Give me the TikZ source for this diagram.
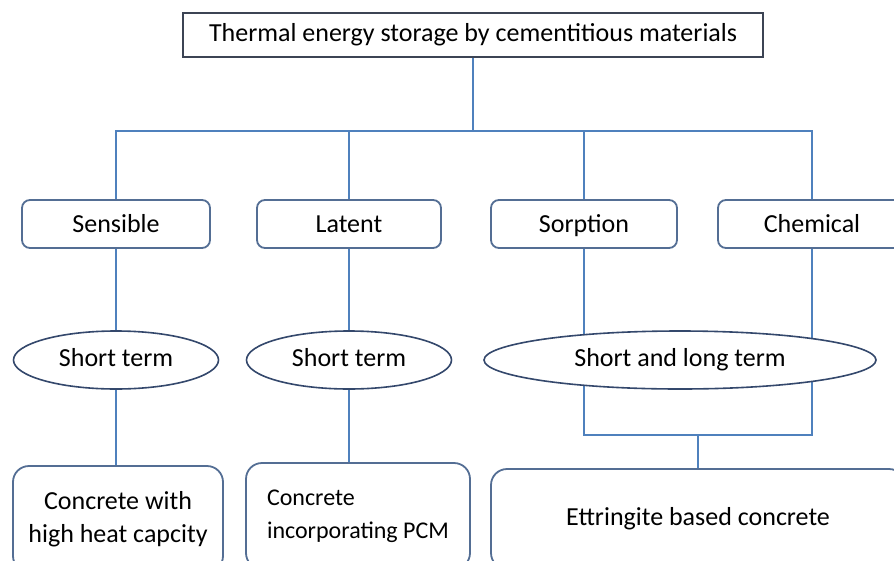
\documentclass[tikz,border=0pt]{standalone}
\usepackage{fontspec}
\setmainfont{Carlito}
\usepackage{xcolor}
\usetikzlibrary{shapes.geometric}
\usetikzlibrary{backgrounds}
\definecolor{linkblue}{RGB}{79,129,189}
\definecolor{topgray}{RGB}{60,68,84}
\definecolor{boxblue}{RGB}{84,110,148}
\definecolor{ovalblue}{RGB}{52,72,108}

\begin{document}
\begin{tikzpicture}[x=1pt, y=-1pt,
  link/.style={draw=linkblue, line width=1.6pt},
  topbox/.style={draw=topgray, line width=1.8pt, fill=white, minimum height=44pt, inner sep=0pt, font=\fontsize{26}{30}\selectfont},
  kind/.style={draw=boxblue, line width=1.8pt, rounded corners=8pt, fill=white, minimum height=48pt, inner sep=0pt, text height=20pt, text depth=3pt, font=\fontsize{26}{30}\selectfont},
  term/.style={ellipse, draw=ovalblue, line width=1.6pt, fill=white, minimum height=58pt, inner sep=0pt, text height=18pt, text depth=5pt, font=\fontsize{26}{30}\selectfont},
  result/.style={draw=boxblue, line width=1.8pt, rounded corners=16pt, fill=white, minimum height=106pt, inner sep=0pt, font=\fontsize{26}{33}\selectfont}]
\useasboundingbox (0,0) rectangle (894,560);
\clip (0,0) rectangle (894,560);

% root and the four kinds
\node[topbox, minimum width=580pt] (top) at (473,35) {Thermal energy storage by cementitious materials};
\node[kind, minimum width=188pt] (sens) at (116,224) {Sensible};
\node[kind, minimum width=184pt] (lat) at (349,224) {Latent};
\node[kind, minimum width=186pt] (sorp) at (584,224) {Sorption};
\node[kind, minimum width=188pt] (chem) at (812,224) {Chemical};

% storage term
\node[term, minimum width=205pt] (sst) at (116,360) {Short term};
\node[term, minimum width=205pt] (lst) at (349,360) {Short term};
\node[term, minimum width=392pt] (stl) at (680,360) {Short and long term};

% materials
\node[result, minimum width=210pt, align=center] (conc1) at (118,519) {Concrete with\\high heat capcity};
\node[result, minimum width=224pt, align=left, font=\fontsize{24}{33}\selectfont] (conc2) at (358,516) {Concrete\\incorporating PCM};
\node[result, minimum width=414pt, minimum height=100pt] (ett) at (698,519) {Ettringite based concrete};

\begin{scope}[on background layer]
\draw[link] (top.south) -- ++(0,73) coordinate (bus);
\draw[link] (sens.north) |- (bus) -| (chem.north);
\draw[link] (lat.north) -- (lat.north |- bus);
\draw[link] (sorp.north) -- (sorp.north |- bus);
\draw[link] (sens) -- (sst);
\draw[link] (sst.south) -- (sst.south |- conc1.north);
\draw[link] (lat) -- (lst);
\draw[link] (lst.south) -- (lst.south |- conc2.north);
\draw[link] (ett.north) -- ++(0,-33) coordinate (join);
\draw[link] (sorp) |- (join) -| (chem);
\end{scope}
\end{tikzpicture}
\end{document}
